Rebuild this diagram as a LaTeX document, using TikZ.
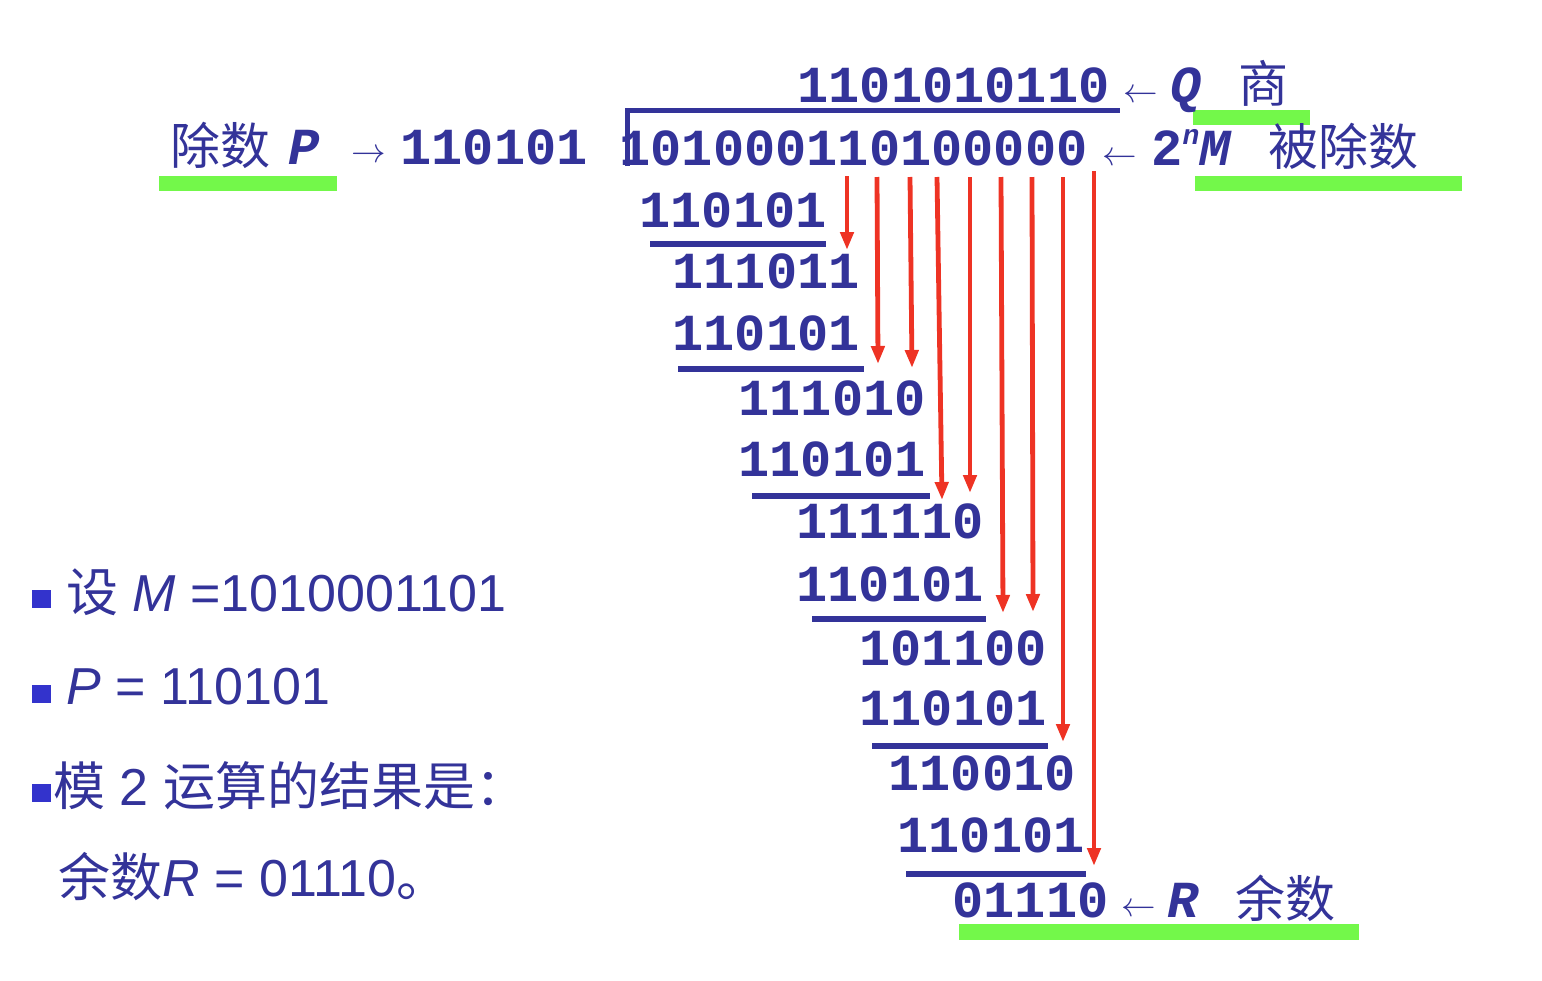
\documentclass[tikz,border=0pt]{standalone}
\usepackage{fontspec}
\setmainfont{Liberation Sans}
\newfontfamily\cjk{Noto Sans CJK SC}
\newfontfamily\mono{Liberation Mono}
\usepackage{tikz}
\usetikzlibrary{arrows.meta}
\definecolor{navy}{RGB}{51,51,153}
\definecolor{bulletblue}{RGB}{51,51,204}
\definecolor{hilite}{RGB}{115,248,74}
\definecolor{bringred}{RGB}{238,51,36}
\newcommand{\bitfont}{\mono\bfseries\fontsize{26}{28}\selectfont}
\newcommand{\arrowfont}{\fontsize{18}{20}\selectfont}
\newcommand{\hanfont}{\cjk\fontsize{25}{28}\selectfont}
\newcommand{\plainfont}{\fontsize{26}{30}\selectfont}
\tikzset{
	bits/.style={font=\bitfont, text=navy, anchor=base west, inner sep=0pt},
	han/.style={font=\hanfont, text=navy, anchor=base west, inner sep=0pt},
	sym/.style={font=\arrowfont, text=navy, anchor=base, inner sep=0pt},
	plain/.style={font=\plainfont, text=navy, anchor=base west, inner sep=0pt},
	rule/.style={draw=navy, line width=3pt},
	bracket/.style={draw=navy, line width=2.5pt},
	bring/.style={draw=bringred, line width=2.4pt, -{Triangle[length=9pt, width=6.5pt]}},
}

\begin{document}
\begin{tikzpicture}[x=0.5pt, y=-0.5pt]
	\useasboundingbox (0,0) rectangle (1542,980);

	% green highlight bars
	\fill[hilite] (1193,110) rectangle (1310,125);
	\fill[hilite] (159,176) rectangle (337,191);
	\fill[hilite] (1195,176) rectangle (1462,191);
	\fill[hilite] (959,924) rectangle (1359,940);

	% quotient line
	\node[bits] (quot) at (797,102) {1101010110};
	\node[sym] (qarrow) at (1141,102) {$\leftarrow$};
	\node[bits] (qname) at (1170,102) {\itshape Q};
	\node[han] (qtext) at (1238,102) {商};

	% division bracket
	\draw[bracket] (627,166) -- (627,110) -- (1120,110);

	% divisor and dividend
	\node[han] (ptext) at (170,164) {除数};
	\node[bits] (pname) at (288,164) {\itshape P};
	\node[sym] (parrow) at (369,162) {$\rightarrow$};
	\node[bits] (divisor) at (400,164) {110101};
	\node[bits] (dvd) at (619,165) {101000110100000};
	\node[sym] (marrow) at (1120,165) {$\leftarrow$};
	\node[bits] (mname) at (1151,165) {2\raisebox{0.4em}{\fontsize{14}{14}\selectfont\itshape n}\itshape M};
	\node[han] (mtext) at (1268,165) {被除数};

	% steps of the mod 2 division
	\foreach \x/\y/\b [count=\i] in {639/227/110101, 672/288/111011, 672/350/110101, 738/415/111010, 738/476/110101, 796/538/111110, 796/601/110101, 859/665/101100, 859/725/110101, 888/790/110010, 897/852/110101}
		\node[bits] (r\i) at (\x,\y) {\b};
	\foreach \xa/\xb/\y in {650/826/244, 678/864/369, 752/930/496, 812/986/619, 872/1048/746, 906/1086/874}
		\draw[rule] (\xa,\y) -- (\xb,\y);

	% remainder
	\node[bits] (rem) at (952,917) {01110};
	\node[sym] (rarrow) at (1139,916) {$\leftarrow$};
	\node[bits] (rname) at (1167,917) {\itshape R};
	\node[han] (rtext) at (1235,917) {余数};

	% bits brought down
	\foreach \xa/\ya/\xb/\yb [count=\k] in {847/176/847/250, 877/177/878/364, 910/177/912/368, 937/177/942/500, 970/177/970/493, 1001/177/1003/613, 1032/177/1033/612, 1063/177/1063/742, 1094/171/1094/866}{
		\coordinate (top\k) at (\xa,\ya);
		\coordinate (tip\k) at (\xb,\yb);
		\draw[bring] (top\k) -- (tip\k);
	}

	% notes on the left
	\fill[bulletblue] (32,590) rectangle (51,608);
	\fill[bulletblue] (32,685) rectangle (51,703);
	\fill[bulletblue] (32,784) rectangle (51,802);
	\node[plain] (note1) at (66,611) {{\cjk 设} \textit{M} =1010001101};
	\node[plain] (note2) at (66,704) {\textit{P} = 110101};
	\node[plain] (note3) at (53,805) {{\cjk 模} 2 {\cjk 运算的结果是：}};
	\node[plain] (note4) at (58,896) {{\cjk 余数}\textit{R} = 01110{\cjk 。}};

\end{tikzpicture}
\end{document}
